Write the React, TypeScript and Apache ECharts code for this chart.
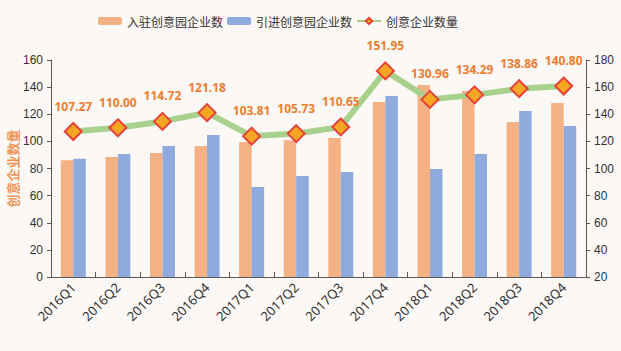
import React, { useEffect, useRef } from "react";
import * as echarts from "echarts";

const categories = ["2016Q1", "2016Q2", "2016Q3", "2016Q4", "2017Q1", "2017Q2", "2017Q3", "2017Q4", "2018Q1", "2018Q2", "2018Q3", "2018Q4"];
const settledValues = [106.0, 108.5, 111.4, 116.6, 119.6, 120.8, 122.5, 149.1, 161.6, 157.2, 134.3, 148.3];
const introducedValues = [107.2, 110.7, 116.6, 124.7, 86.4, 94.5, 97.4, 153.5, 99.6, 110.7, 142.4, 131.4];
const totalValues = [107.27, 110.0, 114.72, 121.18, 103.81, 105.73, 110.65, 151.95, 130.96, 134.29, 138.86, 140.8];
const seriesNames = ["入驻创意园企业数", "引进创意园企业数", "创意企业数量"];
const leftAxisName = "创意企业数量";

export default function App() {
  const ref = useRef<HTMLDivElement>(null);
  useEffect(() => {
    document.body.style.margin = "0";
    const chart = echarts.init(ref.current!, null, { renderer: "svg" });
    const axisLine = { show: true, lineStyle: { color: "#595959", width: 1 } };
    const axisLabel = { color: "#333", fontSize: 12, fontFamily: "Liberation Sans, Arial, sans-serif" };
    chart.setOption({
      animation: false,
      backgroundColor: "#fbf8f5",
      textStyle: { fontFamily: "Noto Sans CJK SC, sans-serif" },
      legend: {
        top: 10,
        left: 93,
        itemWidth: 24,
        itemHeight: 8,
        itemGap: 4,
        textStyle: { color: "#333", fontSize: 12, fontFamily: "Noto Sans CJK SC, sans-serif" },
        data: seriesNames,
      },
      grid: { left: 51, right: 35, top: 60, bottom: 74, containLabel: false, outerBoundsMode: "none" },
      xAxis: {
        type: "category",
        data: categories,
        axisLine,
        axisTick: { show: true, inside: true, length: 5, alignWithLabel: false, lineStyle: { color: "#595959" } },
        axisLabel: { color: "#333", fontSize: 13, rotate: 45, interval: 0, margin: 8, fontFamily: "Noto Sans, sans-serif" },
      },
      yAxis: [
        {
          type: "value",
          min: 0,
          max: 160,
          interval: 20,
          name: leftAxisName,
          nameLocation: "middle",
          nameGap: 32,
          nameRotate: 90,
          nameMoveOverlap: false,
          nameTextStyle: { color: "#f0955a", fontSize: 13, fontWeight: "bold", fontFamily: "Noto Sans CJK SC, sans-serif" },
          axisLine,
          axisTick: { show: true, length: 4, lineStyle: { color: "#595959" } },
          axisLabel,
          splitLine: { show: false },
        },
        {
          type: "value",
          min: 20,
          max: 180,
          interval: 20,
          axisLine,
          axisTick: { show: true, length: 4, lineStyle: { color: "#595959" } },
          axisLabel,
          splitLine: { show: false },
        },
      ],
      series: [
        {
          name: seriesNames[0],
          type: "bar",
          yAxisIndex: 1,
          data: settledValues,
          itemStyle: { color: "#f4b183" },
          barGap: "0%",
          barCategoryGap: "44%",
        },
        {
          name: seriesNames[1],
          type: "bar",
          yAxisIndex: 1,
          data: introducedValues,
          itemStyle: { color: "#8faadc" },
          barGap: "0%",
          barCategoryGap: "44%",
        },
        {
          name: seriesNames[2],
          type: "line",
          yAxisIndex: 0,
          data: totalValues,
          symbol: "diamond",
          symbolSize: 17,
          lineStyle: { color: "#a9d18e", width: 6 },
          itemStyle: { color: "#f5a623", borderColor: "#e8413b", borderWidth: 2 },
          label: {
            show: true,
            position: "top",
            distance: 10,
            formatter: (p: any) => Number(p.value).toFixed(2),
            color: "#ed7d31",
            fontSize: 12,
            fontWeight: "bold",
            fontFamily: "Noto Sans, sans-serif",
          },
          z: 5,
        },
      ],
    });
    return () => chart.dispose();
  }, []);
  return <div ref={ref} style={{ width: 621, height: 351 }} />;
}
